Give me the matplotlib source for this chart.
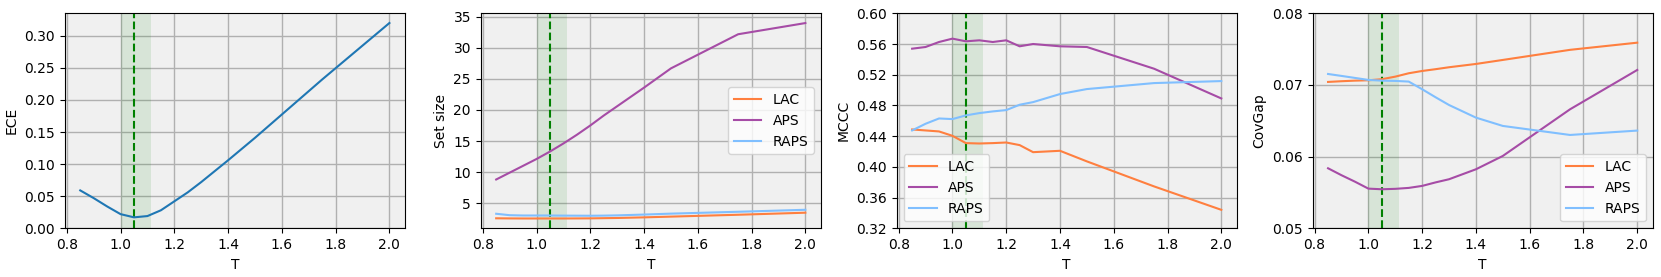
import matplotlib
matplotlib.use("Agg")
import matplotlib.pyplot as plt

# temperatures
T = [0.85, 0.9, 0.95, 1.0, 1.05, 1.1, 1.15, 1.2, 1.25, 1.3, 1.4, 1.5, 1.75, 2.0]

ece = [0.059, 0.047, 0.034, 0.022, 0.017, 0.019, 0.028, 0.042, 0.056, 0.072, 0.106, 0.141, 0.232, 0.320]

size_lac = [2.55, 2.53, 2.52, 2.52, 2.52, 2.52, 2.53, 2.54, 2.57, 2.6, 2.7, 2.82, 3.12, 3.45]
size_aps = [8.8, 9.9, 11.0, 12.1, 13.3, 14.6, 16.0, 17.5, 19.1, 20.6, 23.6, 26.7, 32.2, 34.0]
size_raps = [3.28, 3.05, 3.0, 3.0, 3.0, 2.98, 2.97, 2.96, 2.98, 3.02, 3.15, 3.3, 3.6, 3.92]

mccc_lac = [0.4487, 0.4474, 0.4461, 0.4404, 0.4309, 0.4304, 0.4309, 0.4317, 0.4283, 0.4191, 0.4209, 0.4071, 0.3745, 0.344]
mccc_aps = [0.5539, 0.5561, 0.5626, 0.567, 0.5635, 0.5648, 0.5626, 0.5648, 0.557, 0.56, 0.557, 0.5561, 0.5278, 0.4891]
mccc_raps = [0.4474, 0.4561, 0.463, 0.4622, 0.467, 0.47, 0.4722, 0.4739, 0.4809, 0.4843, 0.4948, 0.5013, 0.5091, 0.5117]

gap_lac = [0.07042, 0.07052, 0.0706, 0.07065, 0.0708, 0.07116, 0.07163, 0.07195, 0.0722, 0.07247, 0.07293, 0.07349, 0.0749, 0.0759]
gap_aps = [0.05837, 0.0574, 0.0565, 0.05553, 0.05544, 0.0555, 0.05563, 0.05591, 0.0564, 0.05684, 0.05823, 0.06009, 0.0666, 0.07209]
gap_raps = [0.07153, 0.07126, 0.07098, 0.0707, 0.0706, 0.07056, 0.07047, 0.0694, 0.06828, 0.0672, 0.06544, 0.06428, 0.06302, 0.06363]

methods = ["LAC", "APS", "RAPS"]
colors = {"LAC": "#ff7f3f", "APS": "#a64ca6", "RAPS": "#80bfff"}

best_T = 1.05
span = (1.0, 1.1125)

plt.rcParams['font.size'] = 10

fig, axes = plt.subplots(1, 4, figsize=(16.61, 2.77), dpi=100)
fig.subplots_adjust(left=0.039, right=0.995, top=0.952, bottom=0.176, wspace=0.223)

panels = [
    ("ECE", None),
    ("Set size", [size_lac, size_aps, size_raps]),
    ("MCCC", [mccc_lac, mccc_aps, mccc_raps]),
    ("CovGap", [gap_lac, gap_aps, gap_raps]),
]

for ax, (name, series) in zip(axes, panels):
    ax.set_facecolor("#f0f0f0")
    ax.grid(True, color="#b0b0b0", linewidth=1.0)
    ax.set_axisbelow(True)
    ax.axvspan(span[0], span[1], color="green", alpha=0.1, lw=0)
    ax.axvline(best_T, color="green", linestyle="--", lw=1.5)
    if series is None:
        ax.plot(T, ece, color="#1f77b4", lw=1.5)
    else:
        for m, vals in zip(methods, series):
            ax.plot(T, vals, color=colors[m], lw=1.5, label=m)
    ax.set_xlabel("T")
    ax.set_ylabel(name)
    ax.set_xticks([0.8, 1.0, 1.2, 1.4, 1.6, 1.8, 2.0])

axes[0].set_ylim(bottom=0)
axes[0].set_yticks([0, 0.05, 0.1, 0.15, 0.2, 0.25, 0.3])
axes[1].set_yticks([5, 10, 15, 20, 25, 30, 35])
axes[2].set_ylim(0.32, 0.60)
axes[2].set_yticks([0.32, 0.36, 0.40, 0.44, 0.48, 0.52, 0.56, 0.60])
axes[3].set_ylim(0.05, 0.08)
axes[3].set_yticks([0.05, 0.06, 0.07, 0.08])

axes[1].legend(loc="center right")
axes[2].legend(loc="lower left")
axes[3].legend(loc="lower right")

plt.savefig("out.png", dpi=100)
